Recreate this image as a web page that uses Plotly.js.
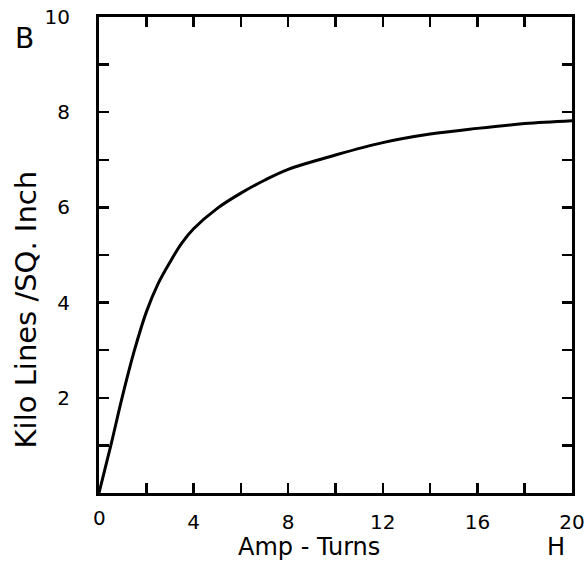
<!DOCTYPE html>
<html>
<head>
<meta charset="utf-8">
<script src="https://cdn.plot.ly/plotly-3.0.1.min.js"></script>
<style>html,body{margin:0;padding:0;background:#fff;}#chart{width:588px;height:563px;}</style>
</head>
<body>
<div id="chart"></div>
<script>
// Magnetization curve: H (ampere-turns) vs B (kilo lines / sq. inch)
const H = [0, 0.5, 1.0, 1.5, 2.0, 2.5, 3.0, 3.5, 4.0, 5.0, 6.0, 7.0, 8.0, 10, 12, 14, 16, 18, 20];
const B = [0, 1.0, 2.05, 3.0, 3.8, 4.4, 4.85, 5.25, 5.55, 5.98, 6.3, 6.57, 6.8, 7.1, 7.36, 7.54, 7.66, 7.76, 7.82];
const xTickVals = [4, 8, 12, 16, 20];
const yTickVals = [2, 4, 6, 8, 10];
const xTitle = "Amp - Turns";
const yTitle = "Kilo Lines /SQ. Inch";
const xSymbol = "H";
const ySymbol = "B";
const originLabel = "0";

const FONT = "DejaVu Sans, sans-serif";

const trace = {
  x: H, y: B, type: "scatter", mode: "lines",
  line: {color: "#000", width: 3, shape: "spline", smoothing: 1},
  hoverinfo: "none"
};

const tickStyle = {ticks: "inside", ticklen: 10, tickwidth: 2.5, tickcolor: "#000"};

const layout = {
  width: 588, height: 563,
  margin: {l: 99, r: 16, t: 17, b: 70},
  paper_bgcolor: "#fff", plot_bgcolor: "#fff",
  showlegend: false,
  font: {family: FONT, color: "#000", size: 20},
  xaxis: Object.assign({
    range: [0, 20], tickmode: "array", tickvals: xTickVals,
    showline: true, linecolor: "#000", linewidth: 3, mirror: "ticks",
    showgrid: false, zeroline: false,
    ticklabelstandoff: 9,
    tickfont: {family: FONT, size: 20, color: "#000"},
    minor: Object.assign({dtick: 2, tick0: 0, showgrid: false}, tickStyle)
  }, tickStyle),
  yaxis: Object.assign({
    range: [0, 10], tickmode: "array", tickvals: yTickVals,
    showline: true, linecolor: "#000", linewidth: 3, mirror: "ticks",
    showgrid: false, zeroline: false,
    ticklabelstandoff: 22,
    tickfont: {family: FONT, size: 20, color: "#000"},
    minor: Object.assign({dtick: 1, tick0: 0, showgrid: false}, tickStyle)
  }, tickStyle),
  annotations: [
    {text: xTitle, xref: "paper", yref: "paper", x: 0.443, y: -0.113, xanchor: "center", yanchor: "middle",
     showarrow: false, font: {family: FONT, size: 24, color: "#000"}},
    {text: yTitle, xref: "paper", yref: "paper", x: -0.155, y: 0.385, xanchor: "center", yanchor: "middle",
     textangle: -90, showarrow: false, font: {family: FONT, size: 29, color: "#000"}},
    {text: xSymbol, xref: "paper", yref: "paper", x: 0.966, y: -0.113, xanchor: "center", yanchor: "middle",
     showarrow: false, font: {family: FONT, size: 24, color: "#000"}},
    {text: originLabel, xref: "paper", yref: "paper", x: 0, y: -0.053, xanchor: "center", yanchor: "middle",
     showarrow: false, font: {family: FONT, size: 20, color: "#000"}},
    {text: ySymbol, xref: "paper", yref: "paper", x: -0.158, y: 0.955, xanchor: "center", yanchor: "middle",
     showarrow: false, font: {family: FONT, size: 28, color: "#000"}}
  ]
};

Plotly.newPlot("chart", [trace], layout, {staticPlot: true, displayModeBar: false});
</script>
</body>
</html>
